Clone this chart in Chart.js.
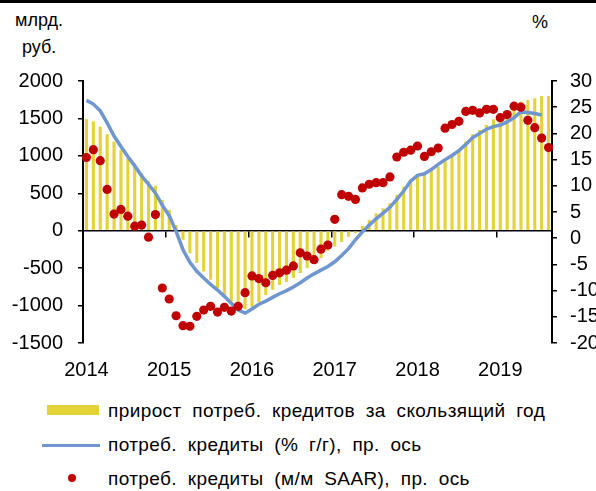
<!DOCTYPE html>
<html lang="ru">
<head>
<meta charset="UTF-8">
<title>Потребительские кредиты</title>
<script src="https://cdn.jsdelivr.net/npm/chart.js"></script>
<style>
  html, body { margin: 0; padding: 0; background: #fff; overflow: hidden; width: 596px; height: 491px; }
  body { position: relative; font-family: Arial, "Liberation Sans", sans-serif; color: #000; }
  .topline { position: absolute; left: 0; top: 0; width: 596px; height: 3px; background: #000; }
  .unit { position: absolute; font-size: 18px; line-height: 20px; white-space: nowrap; }
  #wrap { position: absolute; left: 0; top: 0; }
  .row { position: absolute; left: 108px; font-size: 19px; line-height: 20px; white-space: nowrap; word-spacing: 5px; letter-spacing: 0.4px; }
  .sw { position: absolute; }
</style>
</head>
<body>
  <div class="topline"></div>
  <div class="unit" style="left:15px; top:10px;">млрд.</div>
  <div class="unit" style="left:22px; top:37px;">руб.</div>
  <div class="unit" style="left:532px; top:12px;">%</div>

  <div id="wrap"><canvas id="chart" width="612" height="400"></canvas></div>

  <div class="sw" style="left:47px; top:405px; width:52px; height:10px; background:#E4D236;"></div>
  <div class="row" style="top:401px;">прирост потреб. кредитов за скользящий год</div>
  <div class="sw" style="left:42px; top:444px; width:58px; height:3px; background:#7096CF;"></div>
  <div class="row" style="top:435px;">потреб. кредиты (% г/г), пр. ось</div>
  <div class="sw" style="left:68px; top:474px; width:8px; height:8px; border-radius:50%; background:#C00000;"></div>
  <div class="row" style="top:469px;">потреб. кредиты (м/м SAAR), пр. ось</div>

  <script>
    // monthly, Jan 2014 - Aug 2019
    const years = ['2014', '2015', '2016', '2017', '2018', '2019'];
    const monthsInLastYear = 8;

    const months = [];
    years.forEach((y, k) => {
      const n = k === years.length - 1 ? monthsInLastYear : 12;
      for (let m = 1; m <= n; m++) months.push(y + '-' + (m < 10 ? '0' + m : m));
    });

    // прирост за скользящий год, млрд руб. (левая ось)
    const growth = [
      1490, 1460, 1390, 1290, 1190, 1080, 970, 860, 770, 665, 600, 410,
      278, 77, -120, -300, -430, -545, -655, -765, -855, -945, -1030, -1050,
      -1020, -955, -860, -790, -725, -685, -630, -565, -500, -430, -365, -270,
      -210, -150, -80, -30, 64, 144, 233, 300, 367, 478, 589, 678,
      722, 745, 812, 856, 945, 999, 1056, 1190, 1288, 1346, 1412, 1489,
      1502, 1523, 1622, 1724, 1746, 1769, 1800, 1800
    ];

    // % г/г (правая ось)
    const yoy = [
      26.3, 25.6, 24.3, 22.0, 19.5, 17.5, 15.6, 13.8, 11.9, 10.3, 8.6, 6.3,
      4.3, 1.3, -2.2, -4.6, -6.3, -7.6, -8.8, -9.9, -11.1, -12.4, -13.7, -14.3,
      -13.5, -12.6, -12.0, -11.3, -10.6, -10.0, -9.3, -8.5, -7.6, -6.8, -6.1, -5.4,
      -4.5, -3.3, -2.0, -0.3, 1.2, 2.5, 3.7, 4.8, 5.9, 7.4, 9.0, 10.9,
      12.0, 12.3, 13.1, 14.1, 15.0, 15.8, 16.7, 17.9, 19.2, 20.0, 20.8, 21.3,
      21.6, 22.2, 23.0, 24.1, 24.0, 23.8, 23.5, null
    ];

    // м/м SAAR, % (правая ось)
    const momSaar = [
      15.4, 16.9, 14.8, 9.3, 4.6, 5.5, 4.2, 2.3, 2.5, 0.2, 4.5, -9.5,
      -11.6, -14.8, -16.7, -16.8, -14.9, -13.7, -13.0, -14.1, -13.2, -13.9, -13.0, -10.4,
      -7.2, -7.7, -8.5, -7.1, -6.6, -6.1, -5.3, -2.8, -3.4, -4.1, -2.1, -1.3,
      3.6, 8.3, 8.0, 7.4, 9.6, 10.3, 10.6, 10.6, 11.7, 15.5, 16.4, 16.8,
      17.6, 15.6, 16.5, 17.2, 21.0, 21.7, 22.3, 24.2, 24.4, 23.9, 24.6, 24.6,
      23.0, 23.6, 25.2, 25.0, 22.5, 21.1, 19.1, 17.3
    ];

    const FONT = 'Arial, "Liberation Sans", sans-serif';
    Chart.defaults.font.family = FONT;
    Chart.defaults.color = '#000';

    new Chart(document.getElementById('chart'), {
      type: 'bar',
      data: {
        labels: months,
        datasets: [
          {
            type: 'line',
            label: 'потреб. кредиты (м/м SAAR), пр. ось',
            data: momSaar,
            yAxisID: 'y1',
            showLine: false,
            pointRadius: 4.6,
            pointHoverRadius: 4.6,
            pointBorderWidth: 0,
            pointBackgroundColor: '#C00000',
            borderColor: '#C00000',
            order: 0
          },
          {
            type: 'line',
            label: 'потреб. кредиты (% г/г), пр. ось',
            data: yoy,
            yAxisID: 'y1',
            borderColor: '#7096CF',
            borderWidth: 3.5,
            pointRadius: 0,
            tension: 0,
            order: 1
          },
          {
            type: 'bar',
            label: 'прирост потреб. кредитов за скользящий год',
            data: growth,
            yAxisID: 'y',
            backgroundColor: '#E4D236',
            barPercentage: 0.45,
            categoryPercentage: 1,
            order: 2
          }
        ]
      },
      options: {
        responsive: false,
        animation: false,
        devicePixelRatio: 1,
        layout: { padding: { top: 81, left: 0, right: 0, bottom: 0 } },
        plugins: { legend: { display: false }, tooltip: { enabled: false } },
        scales: {
          x: {
            type: 'category',
            offset: true,
            grid: { display: false, offset: true, drawTicks: false },
            border: { display: false },
            ticks: {
              autoSkip: false,
              maxRotation: 0,
              padding: 15,
              font: { size: 20 },
              callback: (v, i) => (i % 12 === 0 ? years[i / 12] : '')
            },
            afterFit: s => { s.height = 57; }
          },
          x2: {
            type: 'category',
            labels: months,
            offset: true,
            position: { y: 0 },
            grid: {
              offset: true,
              drawOnChartArea: false,
              tickLength: 6,
              lineWidth: 1.5,
              color: c => (c.index % 12 === 0 ? '#000' : 'rgba(0,0,0,0)')
            },
            border: { color: '#000', width: 1.5 },
            ticks: { display: false }
          },
          y: {
            position: 'left',
            min: -1500,
            max: 2000,
            ticks: { stepSize: 500, autoSkip: false, padding: 15, font: { size: 20 }, callback: v => String(v) },
            grid: { drawOnChartArea: false, tickLength: 5, color: '#000', lineWidth: 1.5 },
            border: { color: '#000', width: 2 },
            afterFit: s => { s.width = 83; }
          },
          y1: {
            position: 'right',
            min: -20,
            max: 30,
            ticks: { stepSize: 5, autoSkip: false, padding: 13, font: { size: 20 }, callback: v => String(v) },
            grid: { drawOnChartArea: false, tickLength: 5, color: '#000', lineWidth: 1.5 },
            border: { color: '#000', width: 2 },
            afterFit: s => { s.width = 60; }
          }
        }
      }
    });
  </script>
</body>
</html>
